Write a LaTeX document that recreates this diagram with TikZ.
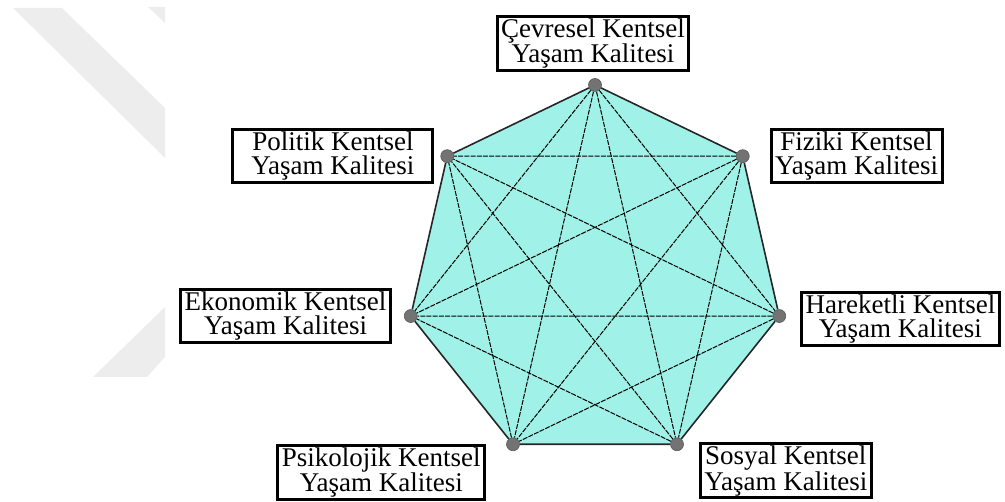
\documentclass[tikz,border=0pt]{standalone}
\usepackage{fontspec}
\setmainfont{Liberation Serif}
\usepackage{xcolor}
\usepackage{tikz}
\usetikzlibrary{positioning,backgrounds}

\definecolor{seafill}{RGB}{160,242,232}
\definecolor{markgray}{RGB}{237,237,237}

\begin{document}
\begin{tikzpicture}[
x=1pt, y=1pt,
dot/.style={circle, fill=black!55, draw=black!65, line width=0.6pt, minimum size=13pt, inner sep=0pt},
lbl/.style={draw, line width=3pt, fill=white, align=center, inner xsep=4pt, inner ysep=2pt, font=\fontsize{27}{24}\selectfont},
edge/.style={line width=1.6pt, draw=black!85},
diag/.style={line width=1pt, dash pattern=on 5pt off 1.2pt}
]
\useasboundingbox (0,0) rectangle (1005,502);

% faint watermark
\fill[markgray] (13,494) -- (62,494) -- (165,394) -- (165,344) -- cycle;
\fill[markgray] (148,495) -- (165,495) -- (165,479) -- cycle;
\fill[markgray] (165,195) -- (93,125) -- (147,125) -- (165,145) -- cycle;

% corners of the heptagon
\begin{scope}[shift={(595,228)}]
\foreach \n [count=\i from 0] in {cevre,fizik,hareket,sosyal,psiko,ekon,polit}
  \node[dot] (\n) at (90-\i*360/7:189) {};
\end{scope}

\begin{scope}[on background layer]
\fill[seafill] (cevre.center) -- (fizik.center) -- (hareket.center) -- (sosyal.center)
  -- (psiko.center) -- (ekon.center) -- (polit.center) -- cycle;
\foreach \a/\b in {cevre/hareket,cevre/sosyal,cevre/psiko,cevre/ekon,
                   fizik/sosyal,fizik/psiko,fizik/ekon,fizik/polit,
                   hareket/psiko,hareket/ekon,hareket/polit,
                   sosyal/ekon,sosyal/polit,psiko/polit}
  \draw[diag] (\a) -- (\b);
\draw[edge] (cevre) -- (fizik) -- (hareket) -- (sosyal) -- (psiko) -- (ekon) -- (polit) -- (cevre);
\end{scope}

% labels
\node[lbl, above=6pt of cevre, xshift=-2pt] (cevreL) {Çevresel Kentsel\\Yaşam Kalitesi};
\node[lbl, left=6pt of polit, minimum width=200pt] (politL) {Politik Kentsel\\Yaşam Kalitesi};
\node[lbl, right=20pt of fizik] (fizikL) {Fiziki Kentsel\\Yaşam Kalitesi};
\node[lbl, left=12pt of ekon] (ekonL) {Ekonomik Kentsel\\Yaşam Kalitesi};
\node[lbl, right=14pt of hareket, yshift=-3pt] (hareketL) {Hareketli Kentsel\\Yaşam Kalitesi};
\node[lbl, anchor=north east] (psikoL) at ([xshift=-20pt]psiko.west) {Psikolojik Kentsel\\Yaşam Kalitesi};
\node[lbl, anchor=north west] (sosyalL) at ([xshift=15pt,yshift=2pt]sosyal.east) {Sosyal Kentsel\\Yaşam Kalitesi};
\end{tikzpicture}
\end{document}
